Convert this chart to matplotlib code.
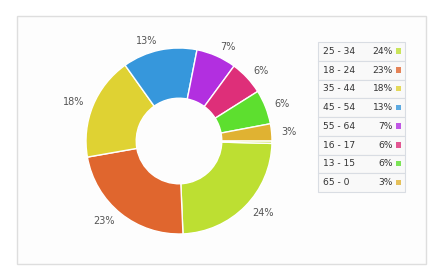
import matplotlib.pyplot as plt
from matplotlib.patches import Rectangle

# data
ages = ['25 - 34', '18 - 24', '35 - 44', '45 - 54', '55 - 64', '16 - 17', '13 - 15', '65 - 0']
shares = [24, 23, 18, 13, 7, 6, 6, 3]
colors = ['#bddf32', '#e0662e', '#dfd233', '#3697dc', '#b22fe0', '#de2f79', '#5ddf2f', '#e0b232']
# thin unlabeled sliver after the 3% slice
sliver = 0.4
sliver_color = '#cfe060'

W, H = 442, 272
fig = plt.figure(figsize=(W / 100, H / 100), dpi=100)
fig.patch.set_facecolor('white')

# outer panel frame
bg = fig.add_axes([0, 0, 1, 1])
bg.set_xlim(0, W)
bg.set_ylim(H, 0)
bg.axis('off')
bg.add_patch(Rectangle((17, 16), 409, 248, facecolor='#fdfdfd', edgecolor='#dedede', lw=1))

# donut
cx, cy, r = 179, 141, 93
ax = fig.add_axes([(cx - r) / W, (H - cy - r) / H, 2 * r / W, 2 * r / H])
vals = shares + [sliver]
cols = colors + [sliver_color]
labs = ['%d%%' % s for s in shares] + ['']
wedges, texts = ax.pie(vals, colors=cols, labels=labs, startangle=-1.5, counterclock=False,
                       labeldistance=1.1, radius=1,
                       wedgeprops=dict(width=0.54, edgecolor='white', linewidth=1),
                       textprops=dict(fontsize=7, color='#555555'))
ax.set_xlim(-1, 1)
ax.set_ylim(-1, 1)
ax.set_aspect('equal')
ax.axis('off')

# legend table
lx, ly, lw, lh = 318, 42, 87, 150
rowh = lh / len(ages)
for i in range(len(ages)):
    y = ly + i * rowh
    bg.add_patch(Rectangle((lx, y), lw, rowh, facecolor='#f9f9f9', edgecolor='#d9dde3', lw=0.8))
    bg.text(lx + 5, y + rowh / 2, ages[i], fontsize=6.6, color='#333333', va='center', ha='left')
    bg.text(lx + 75, y + rowh / 2, '%d%%' % shares[i], fontsize=6.6, color='#333333', va='center', ha='right')
    bg.add_patch(Rectangle((lx + 77.5, y + rowh / 2 - 3), 5.5, 5.5, facecolor=colors[i], edgecolor='none', alpha=0.8))

fig.savefig('out.png', dpi=100)
